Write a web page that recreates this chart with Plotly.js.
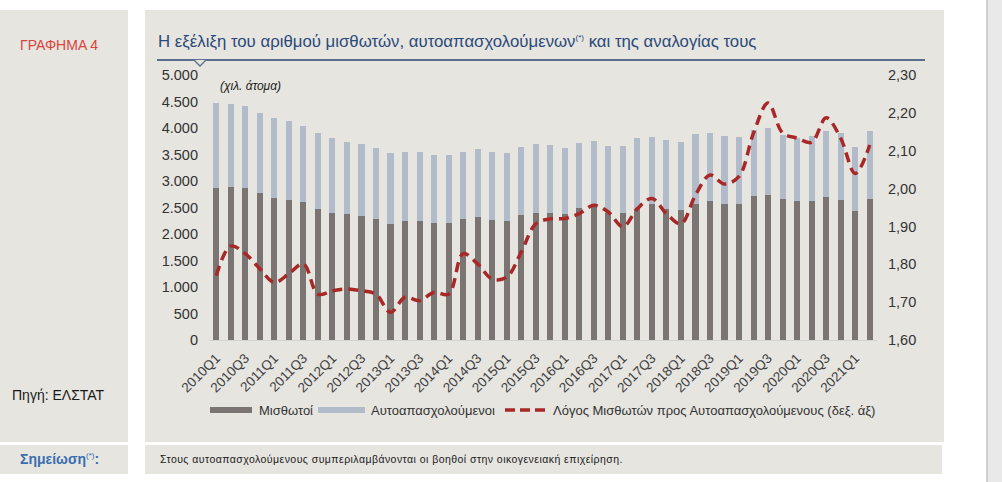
<!DOCTYPE html>
<html>
<head>
<meta charset="utf-8">
<script src="https://cdn.plot.ly/plotly-3.0.1.min.js"></script>
<style>
  html, body { margin:0; padding:0; width:1002px; height:482px; background:#ffffff; overflow:hidden; font-family:"Liberation Sans", Arial, sans-serif; }
  .panel { position:absolute; background:#e6e5e0; }
  .txt { position:absolute; white-space:nowrap; }
  #chart { position:absolute; left:0; top:0; width:1002px; height:482px; }
</style>
</head>
<body>
<div class="panel" style="left:0;top:10px;width:128px;height:432px;"></div>
<div class="panel" style="left:145px;top:10px;width:799px;height:432px;"></div>
<div class="panel" style="left:0;top:445px;width:128px;height:29px;"></div>
<div class="panel" style="left:145px;top:445px;width:797px;height:29px;"></div>
<div style="position:absolute;left:986px;top:0;width:16px;height:482px;background:#e9e9e9;border-left:2px solid #cfcfcf;"></div>

<div class="txt" style="left:20px;top:37px;font-size:14px;color:#d9443c;">ΓΡΑΦΗΜΑ 4</div>
<div class="txt" style="left:12px;top:387px;font-size:14px;color:#1a1a1a;">Πηγή: ΕΛΣΤΑΤ</div>
<div class="txt" style="left:20px;top:451px;font-size:14px;color:#3b6db0;font-weight:bold;">Σημείωση<sup style="font-size:8px;font-weight:normal;">(*)</sup>:</div>
<div class="txt" style="left:160px;top:453px;font-size:10.5px;letter-spacing:0.45px;color:#1a1a1a;">Στους αυτοαπασχολούμενους συμπεριλαμβάνονται οι βοηθοί στην οικογενειακή επιχείρηση.</div>
<div class="txt" style="left:158px;top:32px;font-size:16.8px;color:#2b4a7a;">Η εξέλιξη του αριθμού μισθωτών, αυτοαπασχολούμενων<sup style="font-size:8px;">(*)</sup> και της αναλογίας τους</div>
<div style="position:absolute;left:157px;top:59px;width:768px;height:2px;background:#5a6d8c;"></div>
<svg style="position:absolute;left:194px;top:60px;" width="14" height="8"><polyline points="0,0 6,6 12,0" fill="#e6e5e0" stroke="#5a6d8c" stroke-width="1.3"/></svg>

<div id="chart"></div>
<script>
const quarters = [
 "2010Q1","2010Q2","2010Q3","2010Q4","2011Q1","2011Q2","2011Q3","2011Q4",
 "2012Q1","2012Q2","2012Q3","2012Q4","2013Q1","2013Q2","2013Q3","2013Q4",
 "2014Q1","2014Q2","2014Q3","2014Q4","2015Q1","2015Q2","2015Q3","2015Q4",
 "2016Q1","2016Q2","2016Q3","2016Q4","2017Q1","2017Q2","2017Q3","2017Q4",
 "2018Q1","2018Q2","2018Q3","2018Q4","2019Q1","2019Q2","2019Q3","2019Q4",
 "2020Q1","2020Q2","2020Q3","2020Q4","2021Q1","2021Q2"];
const tickLabels = quarters.filter((q, i) => i % 2 === 0);

// Μισθωτοί (χιλ.)
const employees = [
 2861,2886,2861,2766,2671,2646,2601,2475,
 2405,2380,2335,2285,2190,2241,2241,2215,
 2215,2285,2316,2266,2241,2361,2405,2405,
 2373,2487,2557,2405,2405,2475,2557,2475,
 2456,2570,2620,2570,2570,2715,2741,2665,
 2620,2620,2696,2646,2430,2665];
// Αυτοαπασχολούμενοι (χιλ.)
const selfEmployed = [
 1614,1563,1563,1519,1519,1493,1443,1430,
 1399,1361,1355,1335,1329,1310,1310,1285,
 1285,1266,1279,1285,1278,1285,1285,1266,
 1247,1228,1202,1260,1260,1329,1272,1291,
 1285,1310,1285,1284,1255,1247,1253,1205,
 1190,1234,1254,1259,1209,1272];
// Λόγος Μισθωτών προς Αυτοαπασχολούμενους (δεξ. άξ)
const ratio = [
 1.770,1.848,1.828,1.788,1.752,1.775,1.801,1.721,
 1.730,1.735,1.730,1.721,1.673,1.713,1.704,1.726,
 1.721,1.828,1.801,1.761,1.766,1.832,1.907,1.920,
 1.921,1.934,1.956,1.938,1.899,1.947,1.974,1.934,
 1.907,1.983,2.036,2.012,2.032,2.147,2.226,2.147,
 2.133,2.122,2.187,2.133,2.040,2.115];

const leftTicks = [0,500,1000,1500,2000,2500,3000,3500,4000,4500,5000];
const rightTicks = [1.6,1.7,1.8,1.9,2.0,2.1,2.2,2.3];

const cDark = "#7a7573", cLight = "#b2bbca", cRed = "#a82828";
const fontFam = "Liberation Sans, Arial, sans-serif";

const traces = [
 {type:"bar", x:quarters, y:employees, name:"Μισθωτοί", marker:{color:cDark}, showlegend:false, hoverinfo:"skip"},
 {type:"bar", x:quarters, y:selfEmployed, name:"Αυτοαπασχολούμενοι", marker:{color:cLight}, showlegend:false, hoverinfo:"skip"},
 {type:"scatter", mode:"lines", x:quarters, y:ratio, yaxis:"y2", name:"Λόγος Μισθωτών προς Αυτοαπασχολούμενους (δεξ. άξ)",
  line:{color:cRed, width:3.5, dash:"10px,6px", shape:"spline", smoothing:1}, showlegend:false, hoverinfo:"skip"}
];

const L = 209, R = 877, T = 75, B = 340;
const px = v => (v - L) / (R - L);
const py = v => (B - v) / (B - T);

const legY = 410;
const layout = {
 width:1002, height:482,
 margin:{l:L, r:1002-R, t:T, b:482-B, pad:0},
 paper_bgcolor:"rgba(0,0,0,0)", plot_bgcolor:"rgba(0,0,0,0)",
 separators:",.",
 barmode:"stack", bargap:0.58,
 font:{family:fontFam, size:13, color:"#333333"},
 xaxis:{type:"category", tickmode:"array", tickvals:tickLabels, ticktext:tickLabels, tickangle:-45,
        tickfont:{size:13.5, color:"#404040"}, showgrid:false, showline:true, linecolor:"#d2d2d2", linewidth:1,
        ticks:"", zeroline:false, fixedrange:true, ticklabelstandoff:4},
 yaxis:{range:[0,5000], tickmode:"array", tickvals:leftTicks, tickformat:",d", showgrid:false, zeroline:false,
        showline:false, ticks:"", tickfont:{size:14.5, color:"#333333"}, ticklabelstandoff:10},
 yaxis2:{range:[1.6,2.3], overlaying:"y", side:"right", tickmode:"array", tickvals:rightTicks, tickformat:".2f",
        showgrid:false, zeroline:false, showline:false, ticks:"", tickfont:{size:14.5, color:"#333333"}, ticklabelstandoff:10},
 shapes:[
  {type:"rect", xref:"paper", yref:"paper", x0:px(210), x1:px(252), y0:py(legY-3), y1:py(legY+3), fillcolor:cDark, line:{width:0}},
  {type:"rect", xref:"paper", yref:"paper", x0:px(318), x1:px(365), y0:py(legY-3), y1:py(legY+3), fillcolor:cLight, line:{width:0}},
  {type:"line", xref:"paper", yref:"paper", x0:px(505), x1:px(545), y0:py(legY), y1:py(legY), line:{color:cRed, width:3.5, dash:"10px,5px"}}
 ],
 annotations:[
  {xref:"paper", yref:"paper", x:px(218), y:py(86), text:"<i>(χιλ. άτομα)</i>", showarrow:false, xanchor:"left", yanchor:"middle", font:{size:12, color:"#1a1a1a"}},
  {xref:"paper", yref:"paper", x:px(257), y:py(legY), text:"Μισθωτοί", showarrow:false, xanchor:"left", yanchor:"middle", font:{size:13, color:"#333333"}},
  {xref:"paper", yref:"paper", x:px(369), y:py(legY), text:"Αυτοαπασχολούμενοι", showarrow:false, xanchor:"left", yanchor:"middle", font:{size:13, color:"#333333"}},
  {xref:"paper", yref:"paper", x:px(551), y:py(legY), text:"Λόγος Μισθωτών προς Αυτοαπασχολούμενους (δεξ. άξ)", showarrow:false, xanchor:"left", yanchor:"middle", font:{size:13, color:"#333333"}}
 ]
};

Plotly.newPlot("chart", traces, layout, {displayModeBar:false, staticPlot:true});
</script>
</body>
</html>
